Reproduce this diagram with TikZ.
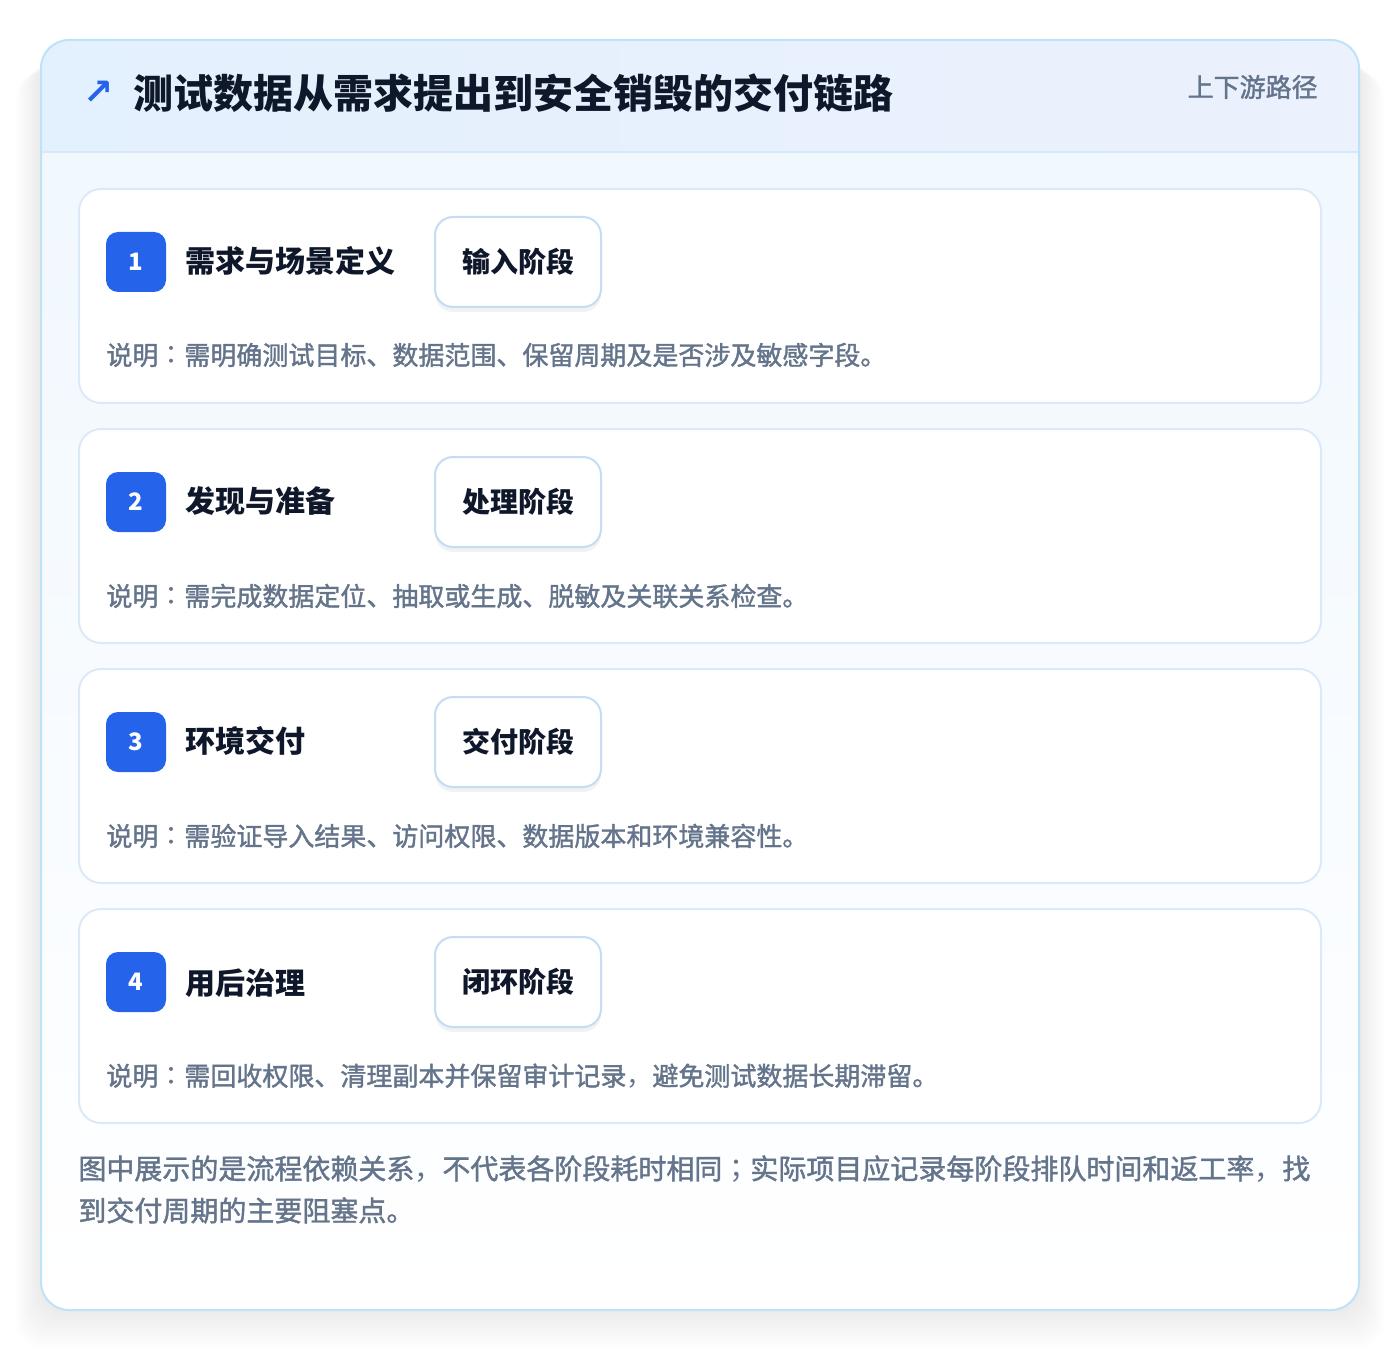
\documentclass[tikz,border=0pt]{standalone}
\usepackage{fontspec}
\setmainfont{Noto Sans CJK SC}
\newfontfamily\cjkmed[FakeBold=1.4]{Noto Sans CJK SC}
\newfontfamily\puncfont{Noto Sans CJK TC}
\newfontfamily\commafont{Noto Sans CJK KR}
\newfontfamily\symfont{DejaVu Sans}
\usetikzlibrary{shadows}
\definecolor{badgeblue}{HTML}{2563EB}
\definecolor{ink}{HTML}{0F172A}
\definecolor{slate}{HTML}{64748B}
\definecolor{cardline}{HTML}{DCE9F8}
\definecolor{tagline}{HTML}{C5DCF4}
\definecolor{panelline}{HTML}{BEE3F8}
\definecolor{headleft}{HTML}{E3F0FD}
\definecolor{headright}{HTML}{EBF1FD}
\definecolor{headrule}{HTML}{D6E8FA}
\definecolor{bodytop}{HTML}{EFF7FE}
\newcommand{\fcolon}{{\puncfont ：}}
\newcommand{\fcomma}{{\commafont ，}}
\newcommand{\fsemi}{{\puncfont ；}}
\begin{document}
\begin{tikzpicture}[x=0.5pt,y=-0.5pt,
    card/.style={draw=cardline, line width=1pt, fill=white, rounded corners=11pt,
      minimum width=621pt, minimum height=107pt},
    badge/.style={fill=badgeblue, rounded corners=6pt, minimum size=30pt,
      text=white, font=\bfseries\fontsize{12}{12}\selectfont},
    steptitle/.style={anchor=west, inner sep=0pt, text=ink,
      font=\bfseries\fontsize{15}{18}\selectfont},
    tag/.style={draw=tagline, line width=1pt, fill=white, rounded corners=9pt,
      minimum width=83pt, minimum height=45pt, text=ink,
      font=\bfseries\fontsize{14}{16}\selectfont,
      drop shadow={shadow xshift=0pt, shadow yshift=-2.5pt, fill=black, opacity=0.05}},
    note/.style={anchor=west, inner sep=0pt, text=slate,
      font=\cjkmed\fontsize{13}{16}\selectfont}]
  \useasboundingbox[fill=white] (0,0) rectangle (1400,1352);

  % soft shadow of the panel
  \foreach \i in {1,...,20}
    \fill[black, opacity=0.005, rounded corners=14pt]
      (41-1.3*\i,52+\i) rectangle (1359+1.3*\i,1310+2*\i);

  % outer panel
  \path[top color=bodytop, bottom color=white, rounded corners=14pt]
    (41,40) rectangle (1359,1310);
  \begin{scope}
    \clip[rounded corners=14pt] (41,40) rectangle (1359,1310);
    \fill[left color=headleft, right color=headright] (41,40) rectangle (1359,152);
    \draw[headrule, line width=1pt] (41,152) -- (1359,152);
  \end{scope}
  \draw[panelline, line width=1pt, rounded corners=14pt] (41,40) rectangle (1359,1310);

  \node[text=badgeblue, font=\symfont\bfseries\fontsize{18}{18}\selectfont] (arrow) at (99,93) {↗};
  \node[anchor=west, inner sep=0pt, text=ink, font=\bfseries\fontsize{20}{24}\selectfont] (title) at (133,93) {测试数据从需求提出到安全销毁的交付链路};
  \node[anchor=east, inner sep=0pt, text=slate, font=\cjkmed\fontsize{13}{16}\selectfont] (scope) at (1318,87) {上下游路径};

  % steps
  \node[card] (c1) at (700,296) {};
  \node[badge] (b1) at (136,262) {1};
  \node[steptitle] (t1) at (185,261) {需求与场景定义};
  \node[tag] (g1) at (518,262) {输入阶段};
  \node[note] (d1) at (106,355) {说明\fcolon 需明确测试目标、数据范围、保留周期及是否涉及敏感字段。};

  \node[card] (c2) at (700,536) {};
  \node[badge] (b2) at (136,502) {2};
  \node[steptitle] (t2) at (185,501) {发现与准备};
  \node[tag] (g2) at (518,502) {处理阶段};
  \node[note] (d2) at (106,596) {说明\fcolon 需完成数据定位、抽取或生成、脱敏及关联关系检查。};

  \node[card] (c3) at (700,776) {};
  \node[badge] (b3) at (136,742) {3};
  \node[steptitle] (t3) at (185,741) {环境交付};
  \node[tag] (g3) at (518,742) {交付阶段};
  \node[note] (d3) at (106,836) {说明\fcolon 需验证导入结果、访问权限、数据版本和环境兼容性。};

  \node[card] (c4) at (700,1016) {};
  \node[badge] (b4) at (136,982) {4};
  \node[steptitle] (t4) at (185,983) {用后治理};
  \node[tag] (g4) at (518,982) {闭环阶段};
  \node[note] (d4) at (106,1076) {说明\fcolon 需回收权限、清理副本并保留审计记录\fcomma 避免测试数据长期滞留。};

  \node[anchor=north west, align=left, inner sep=0pt, text=slate,
    font=\cjkmed\fontsize{14}{21}\selectfont] (footer) at (78,1155)
    {图中展示的是流程依赖关系\fcomma 不代表各阶段耗时相同\fsemi 实际项目应记录每阶段排队时间和返工率\fcomma 找\\到交付周期的主要阻塞点。};
\end{tikzpicture}
\end{document}
